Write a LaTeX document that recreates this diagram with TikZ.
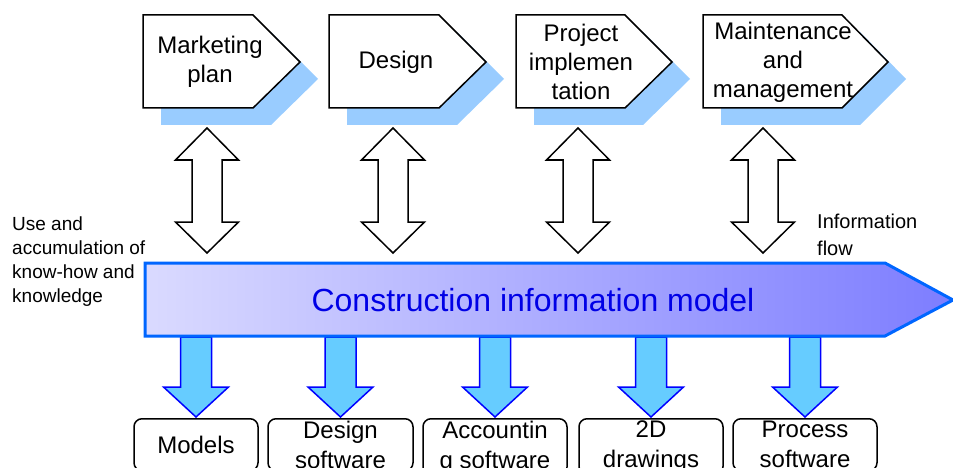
\documentclass[tikz,border=0pt]{standalone}
\usepackage{fontspec}
\setmainfont{Liberation Sans}

\definecolor{shadowblue}{RGB}{153,204,255}
\definecolor{bandleft}{RGB}{218,218,255}
\definecolor{bandright}{RGB}{125,125,255}
\definecolor{bandline}{RGB}{0,102,255}
\definecolor{bandtext}{RGB}{0,0,230}
\definecolor{toolfill}{RGB}{102,204,255}

\begin{document}
\begin{tikzpicture}[x=1pt,y=-1pt,
	phase/.style={draw=black, fill=white, line width=1.5pt},
	phasetext/.style={font=\fontsize{24}{29}\selectfont, align=center, inner sep=0pt},
	linkarrow/.style={draw=black, fill=white, line width=1.5pt},
	band/.style={draw=bandline, line width=3pt, left color=bandleft, right color=bandright},
	toolarrow/.style={draw=blue, fill=toolfill, line width=1.5pt},
	tool/.style={draw=black, rounded corners=8pt, line width=1.5pt, anchor=north,
		minimum height=52, inner sep=2pt, align=center, font=\fontsize{24}{30}\selectfont},
	note/.style={anchor=north west, align=left, inner sep=0pt}]
	\path[use as bounding box] (0,0) rectangle (953,468);
	\clip (0,0) rectangle (953,468);

	% phases of the project
	\foreach \l/\e/\t/\c/\txt [count=\i] in {143/253/300/210/{Marketing\\plan}, 329/439/486/396/Design,
		516/625/672/581/{Project\\implemen\\tation}, 703/842/888/783/{Maintenance\\and\\management}}
	{
		\fill[shadowblue] (\l+18,32) -- (\e+18,32) -- (\t+18,79) -- (\e+18,125) -- (\l+18,125) -- cycle;
		\draw[phase] (\l,15) -- (\e,15) -- (\t,62) -- (\e,108) -- (\l,108) -- cycle;
		\node[phasetext] (phase\i) at (\c,62) {\txt};
	}

	% exchange with the model
	\foreach \x in {207,393,578,763}
		\draw[linkarrow] (\x,128) -- (\x+31.5,160) -- (\x+15,160) -- (\x+15,222) -- (\x+31.5,222)
			-- (\x,253) -- (\x-31.5,222) -- (\x-15,222) -- (\x-15,160) -- (\x-31.5,160) -- cycle;

	% tools fed by the model
	\foreach \x/\w/\txt [count=\i] in {196/124/Models, 340.5/145/{Design\\software},
		495/144/{Accountin\\g software}, 651/144/{2D\\drawings}, 805/144/{Process\\software}}
	{
		\draw[toolarrow] (\x-15.5,337) -- (\x-15.5,387) -- (\x-32.5,387) -- (\x,417)
			-- (\x+32.5,387) -- (\x+15.5,387) -- (\x+15.5,337) -- cycle;
		\node[tool, minimum width=\w] (tool\i) at (\x,418) {\txt};
	}

	\draw[band] (145,263) -- (885,263) -- (953,300) -- (885,336) -- (145,336) -- cycle;
	\node[text=bandtext, font=\fontsize{32}{38}\selectfont] (cim) at (533,300.5) {Construction information model};

	\node[note, font=\fontsize{19}{24}\selectfont] (knowhow) at (12,217) {Use and\\accumulation of\\know-how and\\knowledge};
	\node[note, font=\fontsize{20}{27}\selectfont] (flow) at (817,214) {Information\\flow};
\end{tikzpicture}
\end{document}
